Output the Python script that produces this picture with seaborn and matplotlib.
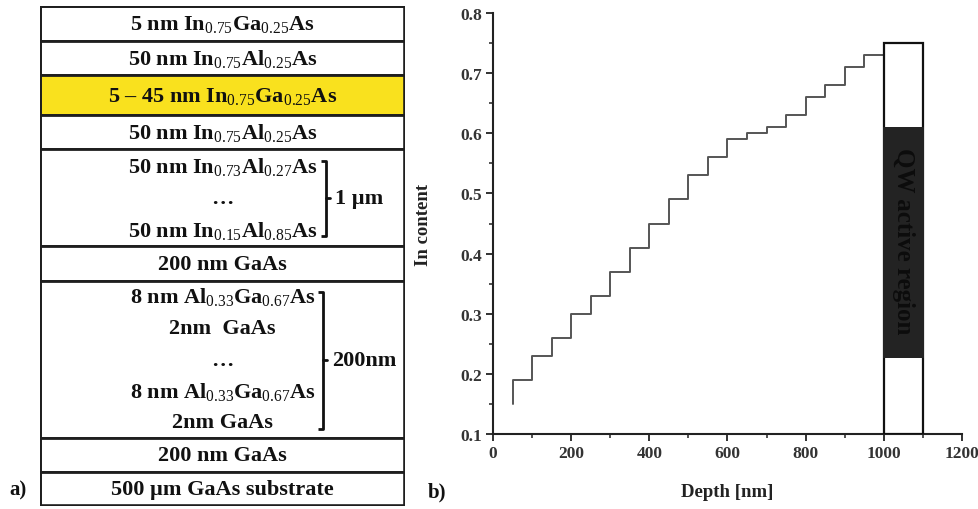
import matplotlib
matplotlib.use("Agg")
import matplotlib.pyplot as plt
from matplotlib.patches import Rectangle
from matplotlib.ticker import MultipleLocator
import pandas as pd
import seaborn as sns

# ---- layer stack (top of the wafer first) ----
layer_lines = [
    [r"5 nm In$_{0.75}$Ga$_{0.25}$As"],
    [r"50 nm In$_{0.75}$Al$_{0.25}$As"],
    [r"5 – 45 nm In$_{0.75}$Ga$_{0.25}$As"],
    [r"50 nm In$_{0.75}$Al$_{0.25}$As"],
    [r"50 nm In$_{0.73}$Al$_{0.27}$As", "…", r"50 nm In$_{0.15}$Al$_{0.85}$As"],
    ["200 nm GaAs"],
    [r"8 nm Al$_{0.33}$Ga$_{0.67}$As", "2nm  GaAs", "…",
     r"8 nm Al$_{0.33}$Ga$_{0.67}$As", "2nm GaAs"],
    ["200 nm GaAs"],
    ["500 µm GaAs substrate"],
]
highlight_layer = 2
bracket_layers = [4, 6]
bracket_labels = ["1 µm", "200nm"]

# ---- graded buffer composition profile ----
step_start_nm = [50, 100, 150, 200, 250, 300, 350, 400, 450, 500,
                 550, 600, 650, 700, 750, 800, 850, 900, 950]
in_content = [0.19, 0.23, 0.26, 0.30, 0.33, 0.37, 0.41, 0.45, 0.49, 0.53,
              0.56, 0.59, 0.60, 0.61, 0.63, 0.66, 0.68, 0.71, 0.73]
buffer_start_content = 0.15
buffer_end_nm = 1000
qw_region_nm = [1000, 1100]
qw_box_top = 0.75
qw_label_span = [0.227, 0.61]

sns.set_theme(style="ticks")
plt.rcParams["font.family"] = ["Liberation Serif", "DejaVu Serif"]
plt.rcParams["font.weight"] = "bold"
plt.rcParams["mathtext.fontset"] = "custom"
plt.rcParams["mathtext.rm"] = "Liberation Serif:weight=normal"
plt.rcParams["mathtext.it"] = "Liberation Serif:italic"
plt.rcParams["mathtext.bf"] = "Liberation Serif:bold"

W, H = 979, 510
fig = plt.figure(figsize=(W / 100, H / 100), dpi=100)

# ================= panel a: layer stack =================
row_h = [35, 34, 40, 34, 97, 35, 157, 34, 34]
ax_a = fig.add_axes([40 / W, 3 / H, 365 / W, 500 / H])
ax_a.set_xlim(0, 365)
ax_a.set_ylim(500, 0)
ax_a.axis("off")

edge = "#1e1e1e"
fs_a = 16
y0 = 0
bracket_spans = {}
for i, (lines, h) in enumerate(zip(layer_lines, row_h)):
    face = "#f9e11e" if i == highlight_layer else "white"
    ax_a.add_patch(Rectangle((0, y0), 365, h, facecolor=face, edgecolor=edge,
                             linewidth=2.0, zorder=1))
    yc = y0 + h / 2
    n = len(lines)
    gap = 32 if n == 3 else 31.5
    for k, txt in enumerate(lines):
        yy = yc + (k - (n - 1) / 2) * gap
        ax_a.text(182.5, yy, txt, ha="center", va="center", fontsize=fs_a,
                  fontweight="bold", color="#111111", zorder=3)
    if i in bracket_layers:
        top = yc - (n - 1) / 2 * gap - 5
        bot = yc + (n - 1) / 2 * gap + 6
        bracket_spans[i] = (top, bot, yc)
    y0 += h
ax_a.add_patch(Rectangle((0, 0), 365, 500, facecolor="none", edgecolor=edge,
                         linewidth=2.6, zorder=4))

for (i, lab) in zip(bracket_layers, bracket_labels):
    top, bot, yc = bracket_spans[i]
    bx = 286 if i == 4 else 283
    ax_a.plot([bx - 5, bx, bx, bx - 5], [top, top, bot, bot], color="#111111",
              lw=2.0, solid_capstyle="butt", zorder=3)
    ax_a.plot([bx, bx + 4], [yc, yc], color="#111111", lw=2.0, zorder=3)
    ax_a.text(bx + 9, yc, lab, ha="left", va="center", fontsize=fs_a,
              fontweight="bold", color="#111111")

fig.text(18 / W, 1 - 490 / H, "a)", ha="center", va="center", fontsize=15,
         fontweight="bold", color="#111111")

# ================= panel b: In content profile =================
ax_b = fig.add_axes([493 / W, 1 - 435 / H, (962 - 493) / W, (435 - 14) / H])
profile = pd.DataFrame({
    "depth": [step_start_nm[0]] + step_start_nm + [buffer_end_nm],
    "content": [buffer_start_content] + in_content + [in_content[-1]],
})
sns.lineplot(data=profile, x="depth", y="content", ax=ax_b, estimator=None,
             sort=False, drawstyle="steps-post", color="#555555", lw=1.4)

ax_b.add_patch(Rectangle((qw_region_nm[0], 0.1), qw_region_nm[1] - qw_region_nm[0],
                         qw_box_top - 0.1, facecolor="white", edgecolor="#111111",
                         lw=1.6, zorder=3))
ax_b.add_patch(Rectangle((qw_region_nm[0] - 2, qw_label_span[0]),
                         qw_region_nm[1] - qw_region_nm[0] + 4,
                         qw_label_span[1] - qw_label_span[0],
                         facecolor="#232323", edgecolor="none", zorder=4))
ax_b.text(sum(qw_region_nm) / 2, sum(qw_label_span) / 2 + 0.003, "QW active region",
          rotation=270, ha="center", va="center", fontsize=18, fontweight="bold",
          color="#0c0c0c", zorder=5)

ax_b.set_xlim(0, 1200)
ax_b.set_ylim(0.1, 0.8)
ax_b.xaxis.set_major_locator(MultipleLocator(200))
ax_b.xaxis.set_minor_locator(MultipleLocator(100))
ax_b.yaxis.set_minor_locator(MultipleLocator(0.05))
ax_b.set_yticks([0.1, 0.2, 0.3, 0.4, 0.5, 0.6, 0.7, 0.8])
ax_b.set_yticklabels(["0.1", "0.2", "0.3", "0.4", "0.5", "0.6", "0.7", "0.8"])
sns.despine(ax=ax_b)
for s in ("left", "bottom"):
    ax_b.spines[s].set_linewidth(1.5)
    ax_b.spines[s].set_color("#222222")
ax_b.tick_params(which="major", direction="out", length=5, width=1.3,
                 color="#222222", labelsize=12.5, labelcolor="#333333", pad=3)
ax_b.tick_params(which="minor", direction="out", length=3, width=1.1,
                 color="#222222")
for lab in ax_b.get_xticklabels() + ax_b.get_yticklabels():
    lab.set_fontweight("bold")

ax_b.set_xlabel("Depth [nm]", fontsize=13.5, fontweight="bold", color="#222222")
ax_b.set_ylabel("In content", fontsize=13.5, fontweight="bold", color="#222222")
ax_b.xaxis.set_label_coords(0.5, -0.116)
ax_b.yaxis.set_label_coords(-0.13, 0.5)

fig.text(437 / W, 1 - 492 / H, "b)", ha="center", va="center", fontsize=15,
         fontweight="bold", color="#111111")

fig.savefig("out.png", dpi=100)
